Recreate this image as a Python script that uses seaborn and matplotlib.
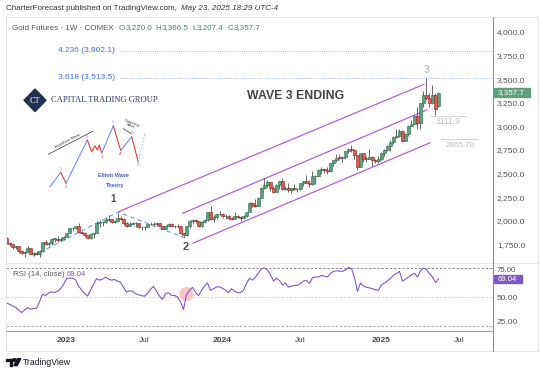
import numpy as np
import pandas as pd
import matplotlib
matplotlib.use("Agg")
import matplotlib.pyplot as plt
import matplotlib.transforms as mtransforms
from matplotlib.lines import Line2D
from matplotlib.patches import Polygon, Rectangle, Circle
import seaborn as sns

# ---------------- data (weekly Gold futures) ----------------
start_week = "2022-08-15"
opens = [1818,1762,1749,1722,1728,1683,1655,1672,1709,1648,
         1656,1645,1681,1771,1754,1768,1809,1810,1800,1804,
         1826,1869,1921,1928,1945,1876,1874,1850,1817,1855,
         1867,1973,1983,1986,2011,2015,1990,1999,2025,2019,
         1981,1946,1969,1977,1971,1929,1929,1932,1960,1966,
         1960,1977,1946,1917,1947,1966,1943,1946,1945,1866,
         1845,1941,1994,2006,2000,1940,1984,2003,2089,2014,
         2036,2069,2072,2050,2051,2029,2018,2054,2038,2024,
         2051,2096,2186,2161,2160,2238,2345,2374,2413,2347,
         2309,2375,2419,2335,2345,2325,2349,2332,2339,2398,
         2421,2403,2386,2470,2473,2542,2547,2536,2524,2610,
         2647,2668,2667,2676,2736,2755,2747,2694,2570,2712,
         2657,2657,2675,2645,2635,2654,2715,2748,2791,2835,
         2887,2900,2954,2848,2914,3001,3022,3114,3035,3245,
         3328,3298,3243,3329,3220]
highs = [1824,1772,1750,1735,1736,1692,1680,1732,1713,1668,
         1675,1685,1775,1791,1770,1815,1812,1834,1832,1835,
         1871,1922,1937,1949,1975,1890,1883,1852,1863,1871,
         1996,2010,1996,2035,2063,2023,2010,2085,2048,2027,
         1990,1985,1985,1983,1975,1935,1943,1966,1987,1986,
         1987,1980,1948,1953,1977,1974,1955,1967,1948,1868,
         1946,2009,2019,2013,2000,1995,2015,2096,2152,2061,
         2080,2098,2079,2067,2063,2036,2088,2060,2045,2059,
         2097,2203,2196,2226,2256,2355,2449,2431,2413,2365,
         2385,2423,2454,2370,2400,2350,2388,2345,2403,2425,
         2484,2434,2523,2479,2549,2570,2560,2564,2614,2648,
         2709,2708,2686,2743,2773,2801,2761,2700,2721,2721,
         2681,2761,2683,2650,2683,2725,2760,2800,2853,2893,
         2968,2974,2956,2933,3017,3065,3124,3201,3249,3371,
         3510,3353,3439,3348,3366.5]
lows = [1755,1729,1701,1701,1662,1646,1615,1670,1643,1622,
        1636,1618,1667,1740,1727,1743,1770,1777,1785,1795,
        1826,1865,1896,1916,1871,1860,1829,1811,1810,1813,
        1866,1934,1945,1976,1993,1972,1979,1986,2005,1957,
        1932,1940,1950,1936,1923,1900,1902,1929,1957,1946,
        1940,1944,1913,1917,1938,1938,1924,1925,1858,1823,
        1843,1924,1970,1981,1936,1931,1981,2001,2009,1990,
        2022,2064,2034,2017,2011,2010,2018,2026,1996,2020,
        2043,2094,2150,2147,2160,2236,2333,2353,2318,2291,
        2305,2340,2325,2325,2305,2297,2321,2306,2325,2364,
        2397,2353,2381,2384,2465,2500,2510,2493,2516,2575,
        2627,2644,2624,2658,2712,2730,2652,2541,2566,2622,
        2625,2650,2584,2616,2614,2641,2685,2735,2740,2810,
        2872,2883,2832,2848,2893,2999,3020,2971,2970,3209,
        3281,3205,3232,3120,3207.4]
closes = [1762,1749,1722,1728,1683,1655,1672,1709,1648,1656,
          1645,1681,1771,1754,1768,1809,1810,1800,1804,1826,
          1869,1921,1928,1945,1876,1874,1850,1817,1855,1867,
          1973,1983,1986,2011,2015,1990,1999,2025,2019,1981,
          1946,1969,1977,1971,1929,1929,1932,1960,1966,1960,
          1977,1946,1917,1947,1966,1943,1946,1945,1866,1845,
          1941,1994,2006,2000,1940,1984,2003,2089,2014,2036,
          2069,2072,2050,2051,2029,2018,2054,2038,2024,2051,
          2096,2186,2161,2160,2238,2345,2374,2413,2347,2309,
          2375,2419,2335,2345,2325,2349,2332,2339,2398,2421,
          2403,2386,2470,2473,2542,2547,2536,2524,2610,2647,
          2668,2667,2676,2736,2755,2747,2694,2570,2712,2657,
          2657,2675,2645,2635,2654,2715,2748,2791,2835,2887,
          2900,2954,2848,2914,3001,3022,3114,3035,3245,3328,
          3298,3243,3329,3187,3357.7]
rsi = [43.8,42.5,40.8,39.5,36.5,34.0,36.5,39.0,37.5,38.0,
       38.5,45.0,52.8,51.7,54.0,55.5,54.5,56.0,58.5,63.0,
       69.0,69.5,69.7,68.0,61.4,57.5,54.0,51.0,57.0,63.0,
       69.0,67.5,68.5,70.5,68.5,67.5,68.2,66.5,65.3,60.0,
       55.2,56.3,56.2,53.4,52.3,51.5,50.8,54.0,58.0,61.0,
       56.0,51.0,47.6,53.5,54.5,51.7,51.7,50.0,45.0,37.2,
       52.4,57.0,60.0,55.0,51.5,56.8,61.5,64.5,57.0,58.5,
       60.5,60.5,59.0,57.0,54.5,58.6,56.0,54.5,54.5,57.0,
       64.0,69.5,67.5,70.5,75.0,79.3,80.0,78.0,73.0,66.5,
       69.5,67.0,62.5,64.5,60.3,61.3,62.0,62.0,64.0,66.5,
       67.2,64.0,70.0,70.7,70.7,72.4,71.5,70.8,74.5,76.5,
       77.2,76.8,76.6,77.8,80.5,79.5,70.0,56.0,64.5,61.5,
       60.0,59.5,58.5,57.5,57.0,62.8,64.5,66.8,69.5,72.5,
       74.5,76.5,66.5,68.5,70.8,73.0,74.5,70.7,77.0,80.0,
       78.6,74.0,70.8,65.0,69.04]

price_ticks = [1750, 2000, 2250, 2500, 2750, 3000, 3250, 3500, 3750, 4000]
rsi_ticks = [25, 50, 75]
date_ticks = ["2023-01-02", "2023-07-03", "2024-01-01", "2024-07-01", "2025-01-06", "2025-07-07"]
date_labels = ["2023", "Jul", "2024", "Jul", "2025", "Jul"]
fib_ratios = ["4.236", "3.618"]
fib_prices = [3802.1, 3513.5]
last_close = 3357.7
last_rsi = 69.04

# annotation drawings (week index, price)
wave_dash = [(8.8, 1626), (37.2, 2092), (59.5, 1817)]
chan_upper = [(37.3, 2095), (139.2, 3445)]
chan_mid = [(58.7, 2078), (140.1, 3173)]
chan_low = [(62.1, 1761), (141.2, 2826)]
lvl_prices = [3111.9, 2865.7]
lvl_labels = ["3111.9", "2865.70"]

# ---------------- figure ----------------
sns.set_style("white")
plt.rcParams['font.family'] = ['Liberation Sans', 'DejaVu Sans']

W, H = 540, 373
fig = plt.figure(figsize=(W / 100, H / 100), dpi=100)
fig.patch.set_facecolor("white")
pxT = mtransforms.Affine2D().scale(1.0 / W, -1.0 / H).translate(0, 1) + fig.transFigure
renderer = fig.canvas.get_renderer()

L, R, T, B1, B2 = 6, 493, 17, 263, 330.5
ax = fig.add_axes([L / W, 1 - B1 / H, (R - L) / W, (B1 - T) / H])
ax2 = fig.add_axes([L / W, 1 - B2 / H, (R - L) / W, (B2 - B1) / H], sharex=ax)

n = len(closes)
idx = np.arange(n)
o = np.array(opens, float); c = np.array(closes, float)
hi = np.array(highs, float); lo = np.array(lows, float)
up = c >= o
green, red = "#5f9e7f", "#e05a50"
ax.vlines(idx, lo, hi, colors="#505050", linewidth=0.6, zorder=3)
ax.bar(idx, np.maximum(np.abs(c - o), 4), bottom=np.minimum(o, c), width=0.72,
       color=np.where(up, green, red), edgecolor=np.where(up, "#2d6a4c", "#8a2222"),
       linewidth=0.4, zorder=4)

ax.set_xlim(-0.17, 162.17)
ax.set_ylim(1552, 4158)
for a in (ax, ax2):
    for s in a.spines.values():
        s.set_visible(False)
ax.yaxis.tick_right()
ax.set_yticks(price_ticks)
ax.set_yticklabels([f"{v:,.1f}" for v in price_ticks])
ax.tick_params(axis="y", length=0, pad=2.9, labelsize=6.0, labelcolor="#555555")
ax.tick_params(axis="x", bottom=False, labelbottom=False)

# channels & wave path
chan_col = "#b25fd4"
for ch in (chan_upper, chan_mid, chan_low):
    ax.plot([p[0] for p in ch], [p[1] for p in ch], color=chan_col, lw=0.9, zorder=2)
ax.plot([p[0] for p in wave_dash], [p[1] for p in wave_dash], color="#6f9be8",
        lw=0.8, ls=(0, (4, 3)), zorder=2)

# fib levels
for r, p in zip(fib_ratios, fib_prices):
    ax.plot([37.8, 162.17], [p, p], color="#93adf2", lw=0.6, ls=(0, (1, 1.6)), zorder=1)
    t = ax.text(36.2, p, f"{r} ({p:,.1f})", ha="right", va="center", color="#3f6ef0")
    t.set_fontsize(10)
    w = t.get_window_extent(renderer).width
    t.set_fontsize(10 * 57 / w)

# level lines with labels
lvl_x = [(141.2, 153.2), (145.0, 157.3)]
lvl_tx = [(147.2, 3046), (151.2, 2802)]
lvl_w = [25, 29]
for p, lab, (x0, x1), (tx, ty), tw in zip(lvl_prices, lvl_labels, lvl_x, lvl_tx, lvl_w):
    ax.plot([x0, x1], [p, p], color="#d9d9d9", lw=0.8, zorder=1)
    t = ax.text(tx, ty, lab, ha="center", va="center", color="#bdbdbd")
    t.set_fontsize(10)
    w = t.get_window_extent(renderer).width
    t.set_fontsize(10 * tw / w)

# wave labels
ax.text(35.5, 2227, "1", ha="center", va="center", fontsize=7, color="#4d4d4d", fontweight="bold")
ax.text(59.7, 1725, "2", ha="center", va="center", fontsize=8, color="#4d4d4d", fontweight="bold")
ax.text(140.1, 3596, "3", ha="center", va="center", fontsize=7.5, color="#c0c0c0", fontweight="bold")
t = ax.text(96.2, 3321, "WAVE 3 ENDING", ha="center", va="center", color="#444444", fontweight="bold")
t.set_fontsize(10)
w = t.get_window_extent(renderer).width
t.set_fontsize(10 * 96 / w)

# ---------------- RSI panel ----------------
ax2.scatter([60], [53], s=105, color="#f6b3b3", alpha=0.75, edgecolors="none", zorder=1)
sns.lineplot(x=idx, y=rsi, ax=ax2, color="#7e57c2", linewidth=0.8, zorder=3)
ax2.axhline(80, color="#7a7a7a", lw=0.6, ls=(0, (3, 2)), zorder=2)
ax2.axhline(50, color="#cfcfcf", lw=0.6, ls=(0, (3, 2)), zorder=2)
ax2.axhline(20, color="#9a9a9a", lw=0.6, ls=(0, (3, 2)), zorder=2)
ax2.set_ylim(15.4, 85.2)
ax2.yaxis.tick_right()
ax2.set_yticks(rsi_ticks)
ax2.set_yticklabels([f"{v:.2f}" for v in rsi_ticks])
ax2.tick_params(axis="y", length=0, pad=2.9, labelsize=6.0, labelcolor="#555555")
# nudge the top RSI tick label up (it sits partly hidden above the value tag in the reference)
top_lab = ax2.get_yticklabels()[-1]
top_lab.set_transform(top_lab.get_transform() + mtransforms.ScaledTranslation(0, 3.2 / 100, fig.dpi_scale_trans))
top_lab.set_fontsize(5.6)
t0 = pd.Timestamp(start_week)
tick_pos = [(pd.Timestamp(d) - t0).days / 7 for d in date_ticks]
ax2.set_xticks(tick_pos)
ax2.set_xticklabels(date_labels)
ax2.tick_params(axis="x", length=0, pad=4.5, labelsize=6.0, labelcolor="#444444")
for lab in ax2.get_xticklabels():
    if lab.get_text().isdigit():
        lab.set_fontweight("bold")
ax2.set_xlabel(""); ax2.set_ylabel("")
ax2.set_xlim(-0.17, 162.17)

# ---------------- frame lines ----------------
def fline(xs, ys, col, lw=0.8):
    fig.add_artist(Line2D(xs, ys, color=col, lw=lw, transform=pxT, zorder=5))

fline([6, 538], [17, 17], "#e3e5ea")
fline([6, 6], [17, 351], "#e3e5ea")
fline([6, 538], [351, 351], "#e3e5ea")
fline([538, 538], [17, 351], "#e3e5ea")
fline([6, 538], [263, 263], "#e3e5ea")
fline([493, 493], [17, 351], "#8f8f8f")
fline([6, 493], [330.5, 330.5], "#9a9a9a")

# ---------------- texts ----------------
def seq(x0, y0, pieces, target):
    texts = []
    for s, col, kw, gap in pieces:
        texts.append(fig.text(0, 0, s, color=col, transform=pxT, va="center", ha="left", **kw))

    def layout(size):
        x = x0
        for tt, (s, col, kw, gap) in zip(texts, pieces):
            tt.set_position((x, y0)); tt.set_fontsize(size)
            x += tt.get_window_extent(renderer).width + gap * size * 100 / 72
        return x - x0
    wd = layout(6)
    layout(6 * target / wd)

seq(6, 9, [("CharterForecast published on TradingView.com, ", "#333333", {}, 0.28),
           ("May 23, 2025 18:29 UTC-4", "#333333", {"style": "italic"}, 0)], 276)

g = "#3d8a63"
seq(12, 28, [("Gold Futures \u00b7 1W \u00b7 COMEX", "#555555", {}, 0.6),
             ("O", g, {}, 0.05), ("3,220.0", g, {}, 0.45),
             ("H", g, {}, 0.05), ("3,366.5", g, {}, 0.45),
             ("L", g, {}, 0.05), ("3,207.4", g, {}, 0.45),
             ("C", g, {}, 0.05), ("3,357.7", g, {}, 0)], 250)

seq(12.7, 274.7, [("RSI (14, close)", "#555555", {}, 0.35), (f"{last_rsi:.2f}", "#7e57c2", {}, 0)], 74)

# price label boxes
fig.add_artist(Rectangle((493.5, 88.2), 36, 8.8, transform=pxT, color=green, zorder=6))
fig.text(511.5, 92.6, f"{last_close:,.1f}", transform=pxT, ha="center", va="center",
         color="white", fontsize=5.8, zorder=7)
fig.add_artist(Rectangle((493.5, 275.0), 28.5, 8.2, transform=pxT, color="#7e57c2", zorder=6))
fig.text(507.7, 279.2, f"{last_rsi:.2f}", transform=pxT, ha="center", va="center",
         color="white", fontsize=5.6, zorder=7)

# logo: Capital Trading Group
fig.add_artist(Polygon([(35, 89), (46, 100.3), (35, 111.6), (24, 100.3)], closed=True,
                       transform=pxT, color="#22304f", zorder=6))
fig.text(35, 100.8, "CT", transform=pxT, ha="center", va="center", color="white",
         fontsize=6, family="Liberation Serif", zorder=7)
t = fig.text(50.7, 100.5, "CAPITAL TRADING GROUP", transform=pxT, ha="left", va="center",
             color="#2c3b5e", family="Liberation Serif", zorder=7)
t.set_fontsize(10)
w = t.get_window_extent(renderer).width
t.set_fontsize(10 * 106 / w)

# Elliott wave illustration
blue_w, red_w = "#6f8ff0", "#e43a3a"
segs = [
    ([(50, 186.7), (60.7, 172.3)], blue_w),
    ([(60.7, 172.3), (66, 183.3)], red_w),
    ([(66, 183.3), (87.3, 140)], blue_w),
    ([(87.3, 140), (91.7, 151.7), (95, 145.7), (97.3, 150), (99.3, 145), (101.7, 153.3)], red_w),
    ([(101.7, 153.3), (113.3, 125.7)], blue_w),
    ([(113.3, 125.7), (120.7, 150.7)], red_w),
    ([(120.7, 150.7), (131.7, 136.7)], blue_w),
    ([(131.7, 136.7), (138.3, 162.3)], red_w),
]
for pts, col in segs:
    fline([p[0] for p in pts], [p[1] for p in pts], col, lw=0.8)
fig.add_artist(Line2D([138.3, 145], [162.3, 133.3], color="#a9bdf5", lw=0.7, ls=(0, (2, 1.5)),
                      transform=pxT, zorder=5))
vlabels = [("1", 60.7, 169, blue_w), ("2", 66, 187, red_w), ("3", 87.3, 136.5, blue_w),
           ("4", 101.7, 156.5, red_w), ("5", 113.3, 122.3, blue_w), ("A", 120.7, 154, red_w),
           ("B", 131.7, 133.3, blue_w), ("C", 138.3, 165.5, red_w)]
for s, x, y, col in vlabels:
    fig.text(x, y, s, transform=pxT, ha="center", va="center", fontsize=2.8, color=col, zorder=7)
fline([48.3, 93.3], [154.3, 131], "#333333", lw=0.5)
fig.text(68, 140.8, "Impulsive Wave", transform=pxT, ha="center", va="center", fontsize=2.9,
         rotation=27, color="#333333", zorder=7)
fline([123, 131], [128.5, 133.5], "#333333", lw=0.5)
fig.text(131, 124.5, "Corrective\nWave", transform=pxT, ha="center", va="center", fontsize=2.7,
         rotation=-22, color="#333333", linespacing=0.9, zorder=7)
t = fig.text(113.5, 175.5, "Elliott Wave", transform=pxT, ha="center", va="center",
             color="#4a5bd0", fontweight="bold", zorder=7)
t.set_fontsize(10); w = t.get_window_extent(renderer).width; t.set_fontsize(10 * 31 / w)
t = fig.text(115.0, 185.0, "Theory", transform=pxT, ha="center", va="center",
             color="#4a5bd0", fontweight="bold", zorder=7)
t.set_fontsize(10); w = t.get_window_extent(renderer).width; t.set_fontsize(10 * 18.5 / w)

# TradingView footer logo
fig.add_artist(Rectangle((6.2, 358.6), 6.2, 2.4, transform=pxT, color="#131722", zorder=6))
fig.add_artist(Rectangle((9.6, 358.6), 2.8, 7.0, transform=pxT, color="#131722", zorder=6))
fig.add_artist(Circle((14.4, 360.0), 1.4, transform=pxT, color="#131722", zorder=6))
fig.add_artist(Polygon([(17.4, 358.6), (20.8, 358.6), (17.2, 365.6), (14.0, 365.6)],
                       transform=pxT, color="#131722", zorder=6))
t = fig.text(22.4, 362.2, "TradingView", transform=pxT, ha="left", va="center",
             color="#131722", zorder=7)
t.set_fontsize(10); w = t.get_window_extent(renderer).width; t.set_fontsize(10 * 48 / w)

fig.savefig("out.png", dpi=100)
